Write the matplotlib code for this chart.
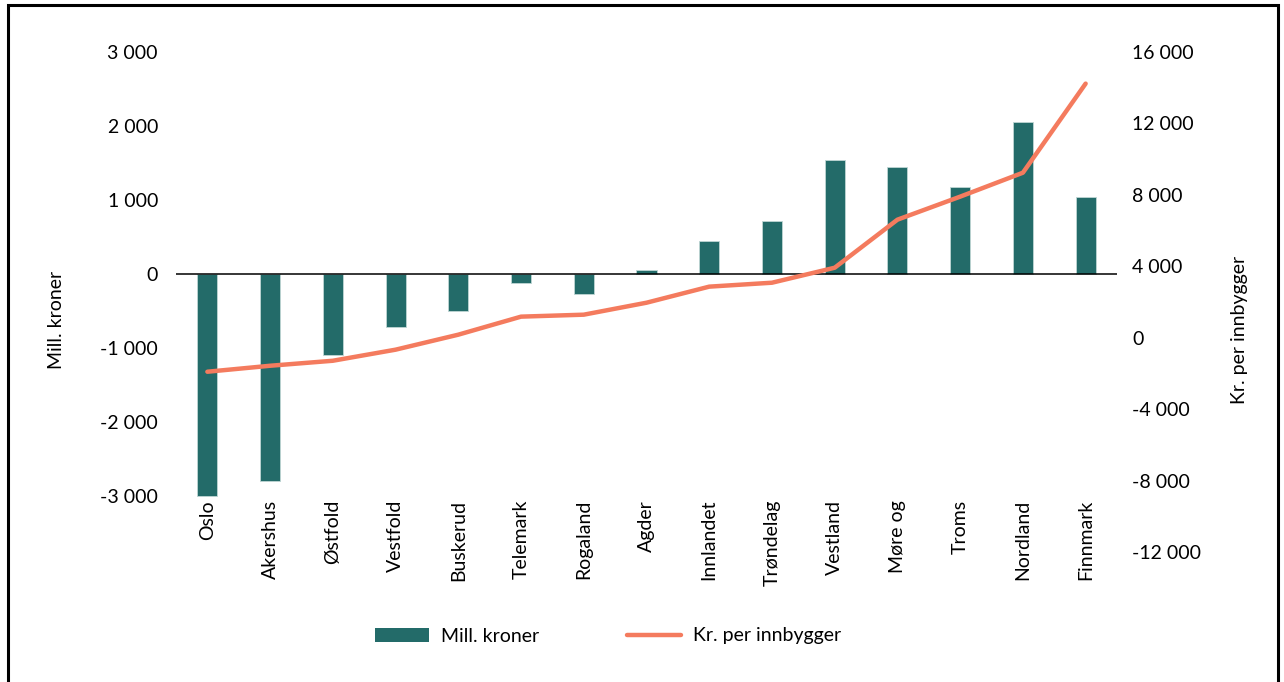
import matplotlib
matplotlib.use("Agg")
import matplotlib.pyplot as plt
from matplotlib.ticker import FuncFormatter, FixedLocator
from matplotlib.patches import Rectangle
from matplotlib.lines import Line2D
from matplotlib.patches import Patch

plt.rcParams['font.family'] = ['Lato', 'DejaVu Sans']

regions = ["Oslo", "Akershus", "Østfold", "Vestfold", "Buskerud", "Telemark",
           "Rogaland", "Agder", "Innlandet", "Trøndelag", "Vestland", "Møre og",
           "Troms", "Nordland", "Finnmark"]
mill_kroner = [-3000, -2800, -1095, -716, -495, -122, -270, 52, 446, 716,
               1540, 1446, 1176, 2054, 1040]
kr_per_innbygger = [-1905, -1570, -1290, -670, 170, 1180, 1290, 1960, 2860,
                    3080, 3920, 6610, 7900, 9240, 14230]

left_ticks = [-3000, -2000, -1000, 0, 1000, 2000, 3000]
right_ticks = [-12000, -8000, -4000, 0, 4000, 8000, 12000, 16000]

bar_color = "#236B69"
line_color = "#F47B5E"
W, H = 1284, 682
FS = 14
fig = plt.figure(figsize=(W / 100, H / 100), dpi=100)

ax = fig.add_axes([176 / W, (H - 552) / H, (1117 - 176) / W, 500 / H])
ax2 = ax.twinx()

x = list(range(len(regions)))
ax.bar(x, mill_kroner, width=0.32, color=bar_color, edgecolor="#BFD6D4",
       linewidth=0.6, zorder=2)
ax.axhline(0, color="black", lw=1.1, zorder=3)
ax.set_xlim(-0.5, len(regions) - 0.5)
ax.set_ylim(-3757, 3000)
ax.yaxis.set_major_locator(FixedLocator(left_ticks))

ax2.plot(x, kr_per_innbygger, color=line_color, lw=3.2, solid_capstyle="round",
         solid_joinstyle="round", zorder=4)
ax2.set_ylim(-12000, 16000)
ax2.yaxis.set_major_locator(FixedLocator(right_ticks))

fmt = FuncFormatter(lambda v, p: f"{v:,.0f}".replace(",", " "))
ax.yaxis.set_major_formatter(fmt)
ax2.yaxis.set_major_formatter(fmt)

for a in (ax, ax2):
    for s in a.spines.values():
        s.set_visible(False)
    a.tick_params(axis="y", length=0, labelsize=FS, colors="black")

ax.tick_params(axis="y", pad=13)
ax2.tick_params(axis="y", pad=11)

ax.set_xticks(x)
ax.set_xticklabels(regions, rotation=90, fontsize=FS)
ax.tick_params(axis="x", length=0, pad=-37.5)

fig.text(57 / W, 1 - 320 / H, "Mill. kroner", rotation=90, ha="center",
         va="center", fontsize=FS)
fig.text(1240 / W, 1 - 330 / H, "Kr. per innbygger", rotation=90, ha="center",
         va="center", fontsize=FS)

handles = [Patch(facecolor=bar_color, edgecolor="none", label="Mill. kroner"),
           Line2D([0], [0], color=line_color, lw=3.2, solid_capstyle="round",
                  label="Kr. per innbygger")]
fig.legend(handles=handles, loc="center", bbox_to_anchor=(608 / W, 1 - 636 / H),
           ncol=2, frameon=False, fontsize=FS, handlelength=2.8,
           handleheight=0.7, columnspacing=4.5, handletextpad=0.6)

fig.patches.append(Rectangle((8 / W, -0.05), (1278 - 8) / W, 1 - 5 / H + 0.05,
                             transform=fig.transFigure, fill=False,
                             edgecolor="black", lw=2.2))

fig.savefig("out.png", dpi=100)
